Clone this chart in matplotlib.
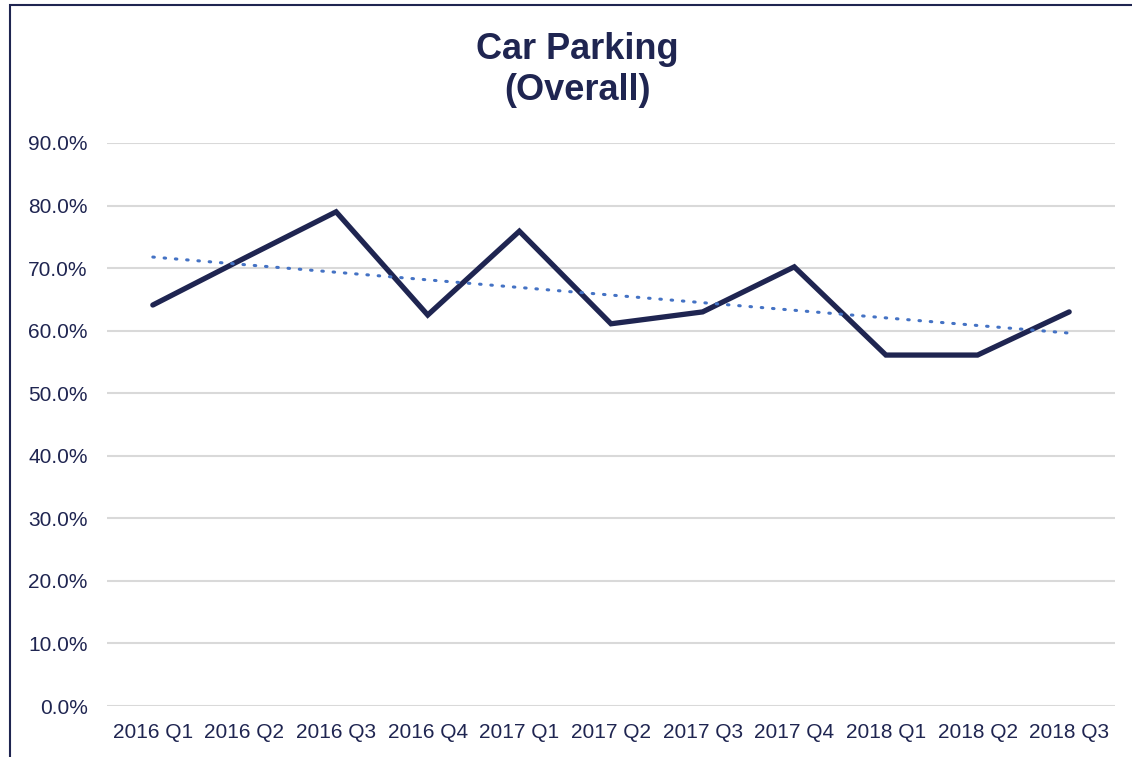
import matplotlib
matplotlib.use("Agg")
import matplotlib.pyplot as plt
import numpy as np
from matplotlib.patches import Rectangle
from matplotlib.ticker import FuncFormatter

categories = ["2016 Q1", "2016 Q2", "2016 Q3", "2016 Q4", "2017 Q1", "2017 Q2",
              "2017 Q3", "2017 Q4", "2018 Q1", "2018 Q2", "2018 Q3"]
values = [64.1, 71.6, 79.0, 62.5, 75.9, 61.1, 63.0, 70.2, 56.1, 56.1, 63.0]

navy = "#1F2551"
trend_col = "#4472C4"

plt.rcParams['font.family'] = ['Liberation Sans', 'DejaVu Sans']

fig = plt.figure(figsize=(11.32, 7.57), dpi=100)
ax = fig.add_axes([107/1132, 1-706/757, (1115-107)/1132, (706-143)/757])

x = np.arange(len(categories))
ax.plot(x, values, color=navy, lw=3.8, solid_joinstyle='miter', solid_capstyle='round', zorder=3)

coef = np.polyfit(x, values, 1)
ax.plot(x, np.polyval(coef, x), color=trend_col, lw=2.2, linestyle=(0, (0.5, 3.2)),
        dash_capstyle='round', zorder=4)

ax.set_xlim(-0.5, len(categories) - 0.5)
ax.set_ylim(0, 90)
ax.set_yticks(np.arange(0, 91, 10))
ax.yaxis.set_major_formatter(FuncFormatter(lambda v, p: f"{v:.1f}%"))
ax.set_xticks(x)
ax.set_xticklabels(categories)
ax.grid(axis='y', color='#D9D9D9', lw=1.5)
ax.set_axisbelow(True)
for s in ax.spines.values():
    s.set_visible(False)
ax.tick_params(axis='both', length=0, labelsize=15, colors=navy)
ax.tick_params(axis='y', pad=14)
ax.tick_params(axis='x', pad=12)

fig.text(577/1132, 1-70/757, "Car Parking\n(Overall)", ha='center', va='center',
         fontsize=26, fontweight='bold', color=navy, linespacing=1.2)

fig.patches.append(Rectangle((10/1132, -0.1), 1.2, 1.1 - 4.5/757, transform=fig.transFigure,
                             fill=False, edgecolor=navy, lw=1.5, zorder=10))

fig.savefig("out.png", dpi=100)
